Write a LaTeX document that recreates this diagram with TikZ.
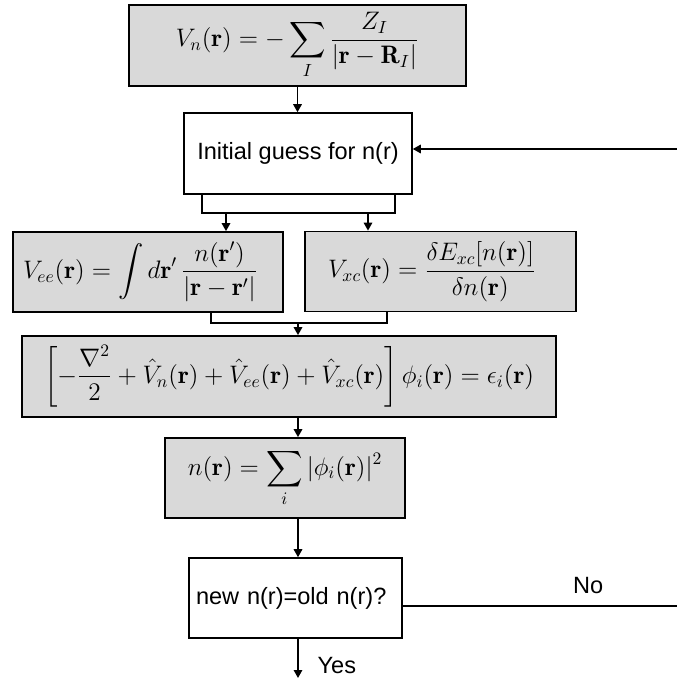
\documentclass[tikz,border=0pt]{standalone}
\usepackage{amsmath, amssymb}
\usepackage{fontspec}
\setsansfont{Liberation Sans}
\usetikzlibrary{arrows.meta, positioning, calc}
\definecolor{boxgray}{RGB}{217,217,217}

\begin{document}
\begin{tikzpicture}[x=0.02cm, y=-0.02cm,
    mathbox/.style={draw=black, line width=1pt, fill=boxgray, minimum height=1.6cm,
                    font=\fontsize{14.4}{17}\selectfont},
    textbox/.style={draw=black, line width=0.9pt, fill=white, minimum height=1.62cm,
                    font=\sffamily\fontsize{13.4}{16}\selectfont},
    textlabel/.style={font=\sffamily\fontsize{13.4}{16}\selectfont},
    link/.style={line width=0.9pt},
    flow/.style={line width=0.9pt, -{Triangle[length=1.6mm, width=1.7mm]}}]
  \useasboundingbox (0,0) rectangle (676,679);
  % nuclear potential
  \node[mathbox, minimum width=6.74cm, minimum height=1.62cm] (vn) at (297.5,45.5)
    {$\displaystyle V_n(\mathbf{r}) = -\sum_I \frac{Z_I}{|\mathbf{r}-\mathbf{R}_I|}$};
  % starting density
  \node[textbox, minimum width=4.56cm] (guess) at (298,153.5)
    {Initial guess for n(r)};
  % Hartree and exchange-correlation potentials
  \node[mathbox, minimum width=5.4cm, text width=5.0cm, inner xsep=0.2cm, align=left]
    (vee) at (148,272)
    {$\displaystyle V_{ee}(\mathbf{r}) = \int d\mathbf{r}'\,\frac{n(\mathbf{r}')}{|\mathbf{r}-\mathbf{r}'|}$};
  \node[mathbox, minimum width=5.42cm, text width=4.5cm, inner xsep=0.46cm, align=left]
    (vxc) at (440.5,271.5)
    {$\displaystyle V_{xc}(\mathbf{r}) = \frac{\delta E_{xc}[n(\mathbf{r})]}{\delta n(\mathbf{r})}$};
  % Kohn-Sham equation
  \node[mathbox, minimum width=10.68cm, minimum height=1.62cm] (ks) at (289,376.5)
    {$\displaystyle \left[-\frac{\nabla^2}{2} + \hat{V}_n(\mathbf{r}) + \hat{V}_{ee}(\mathbf{r})
      + \hat{V}_{xc}(\mathbf{r})\right]\phi_i(\mathbf{r}) = \epsilon_i(\mathbf{r})$};
  % new density
  \node[mathbox, minimum width=4.8cm] (dens) at (285,478)
    {$\displaystyle n(\mathbf{r}) = \sum_i |\phi_i(\mathbf{r})|^2$};
  % convergence test
  \node[textbox, minimum width=4.26cm, minimum height=1.6cm, text width=3.98cm,
        inner xsep=0.14cm, align=left] (conv) at (295.5,598)
    {new n(r)=old n(r)?};

  \draw[flow] (vn.south) -- (vn.south |- guess.north);
  % split to the two potentials
  \coordinate (splitL) at (202,213);
  \coordinate (splitR) at (395,213);
  \coordinate (toVee) at (226,213);
  \coordinate (toVxc) at (368,213);
  \draw[link] (guess.south -| splitL) -- (splitL) -- (splitR) -- (guess.south -| splitR);
  \draw[flow] (toVee) -- (toVee |- vee.north);
  \draw[flow] (toVxc) -- (toVxc |- vxc.north);
  % merge into Kohn-Sham
  \coordinate (mergeL) at (211,323);
  \coordinate (mergeR) at (387,323);
  \coordinate (mergeC) at (298,323);
  \draw[link] (vee.south -| mergeL) -- (mergeL) -- (mergeR) -- (vxc.south -| mergeR);
  \draw[flow] (mergeC) -- (mergeC |- ks.north);
  \draw[flow] (mergeC |- ks.south) -- (mergeC |- dens.north);
  \draw[flow] (mergeC |- dens.south) -- (mergeC |- conv.north);
  % exit
  \coordinate (stop) at (298,678);
  \draw[flow] (conv.south -| stop) -- (stop)
    node[pos=.68, right=0.26cm, textlabel] {Yes};
  % back to the start
  \coordinate (loopA) at (740,606);
  \coordinate (loopB) at (740,149);
  \draw[flow] ([yshift=-0.16cm]conv.east) -- (loopA)
    node[pos=.55, above=0.12cm, textlabel] {No}
    -- (loopB) -- ([yshift=0.09cm]guess.east);
\end{tikzpicture}
\end{document}
